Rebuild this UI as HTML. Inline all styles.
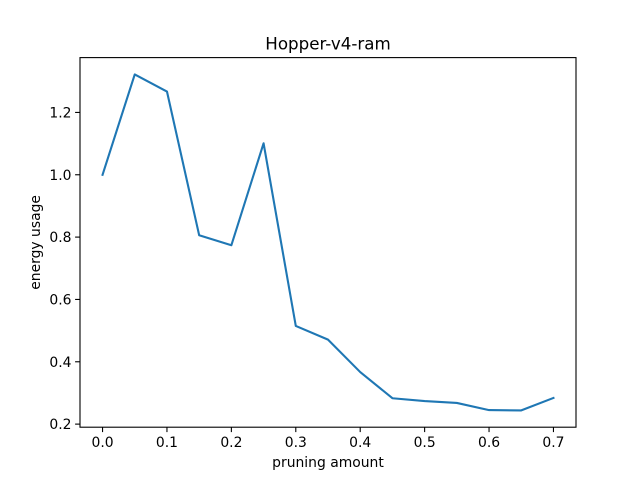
<!DOCTYPE html>
<html><head><meta charset="utf-8"><style>
body{margin:0;background:#fff;}
svg{display:block;font-family:"DejaVu Sans","Liberation Sans",sans-serif;}
</style></head><body>
<svg id="chart" width="640" height="480">
<rect width="640" height="480" fill="#fff"/>
</svg>
<script>
const xValues=[0,0.05,0.1,0.15,0.2,0.25,0.3,0.35,0.4,0.45,0.5,0.55,0.6,0.65,0.7];
const yValues=[1.0,1.322,1.267,0.806,0.774,1.101,0.515,0.471,0.367,0.283,0.274,0.268,0.245,0.244,0.284];
const xTicks=[0,0.1,0.2,0.3,0.4,0.5,0.6,0.7];
const yTicks=[0.2,0.4,0.6,0.8,1.0,1.2];
const title="Hopper-v4-ram", xLabel="pruning amount", yLabel="energy usage";

const svg=document.getElementById('chart');
const NS='http://www.w3.org/2000/svg';
const L=80,R=576,T=57.6,B=427.2;
const xmin0=Math.min(...xValues),xmax0=Math.max(...xValues);
const ymin0=Math.min(...yValues),ymax0=Math.max(...yValues);
const xm=(xmax0-xmin0)*0.05,ym=(ymax0-ymin0)*0.05;
const xmin=xmin0-xm,xmax=xmax0+xm,ymin=ymin0-ym,ymax=ymax0+ym;
const sx=v=>L+(v-xmin)/(xmax-xmin)*(R-L);
const sy=v=>B-(v-ymin)/(ymax-ymin)*(B-T);
function el(tag,attrs,text){const e=document.createElementNS(NS,tag);for(const k in attrs)e.setAttribute(k,attrs[k]);if(text!==undefined)e.textContent=text;svg.appendChild(e);return e;}

xTicks.forEach(t=>{
  const x=sx(t);
  const tk=el('line',{x1:x,x2:x,y1:B,y2:B+4.9,stroke:'#000','stroke-width':1.1});
  
  
  const lb=el('text',{x:x,y:B+20,'text-anchor':'middle','font-size':13.9,fill:'#000'},t.toFixed(1));
  
  
});
yTicks.forEach(t=>{
  const y=sy(t);
  const tk=el('line',{x1:L-4.9,x2:L,y1:y,y2:y,stroke:'#000','stroke-width':1.1});
  
  
  const lb=el('text',{x:L-8.5,y:y+5,'text-anchor':'end','font-size':13.9,fill:'#000'},t.toFixed(1));
  
  
});

const pts=xValues.map((v,i)=>sx(v).toFixed(2)+','+sy(yValues[i]).toFixed(2)).join(' ');
const line=el('polyline',{points:pts,fill:'none',stroke:'#1f77b4','stroke-width':2.1,'stroke-linejoin':'round','stroke-linecap':'square'});



const frame=el('rect',{x:L,y:T,width:R-L,height:B-T,fill:'none',stroke:'#000','stroke-width':1.1});



const tt=el('text',{x:(L+R)/2,y:T-8,'text-anchor':'middle','font-size':16.7,fill:'#000'},title);


const xl=el('text',{x:(L+R)/2,y:467,'text-anchor':'middle','font-size':13.9,fill:'#000'},xLabel);


const yl=el('text',{x:0,y:0,'text-anchor':'middle','font-size':13.9,fill:'#000',transform:`translate(40,${(T+B)/2}) rotate(-90)`},yLabel);


</script>
</body></html>
